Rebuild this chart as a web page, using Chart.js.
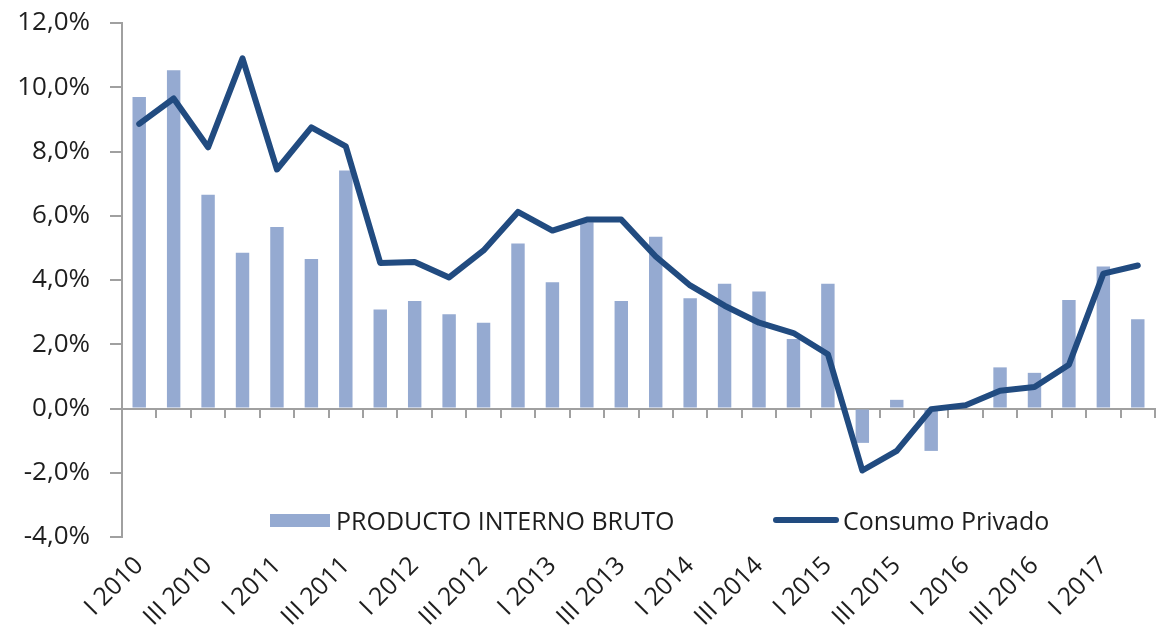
<!DOCTYPE html>
<html>
<head>
<meta charset="utf-8">
<script src="https://cdn.jsdelivr.net/npm/chart.js@4/dist/chart.umd.min.js"></script>
<style>
  html, body { margin: 0; padding: 0; background: #fff; overflow: hidden; }
  #wrap { position: relative; width: 1165px; height: 635px; }
  #legend { position: absolute; left: 0; top: 0; width: 100%; height: 0; font-family: "Open Sans", sans-serif; font-size: 25px; color: #1e1e1e; }
  .lg-item { position: absolute; display: flex; align-items: center; white-space: nowrap; }
  .lg-swatch { display: inline-block; margin-right: 6px; }
</style>
</head>
<body>
<div id="wrap">
  <canvas id="c" width="1165" height="635"></canvas>
  <div id="legend"></div>
</div>
<script>
const quarters = [
  'I 2010','II 2010','III 2010','IV 2010',
  'I 2011','II 2011','III 2011','IV 2011',
  'I 2012','II 2012','III 2012','IV 2012',
  'I 2013','II 2013','III 2013','IV 2013',
  'I 2014','II 2014','III 2014','IV 2014',
  'I 2015','II 2015','III 2015','IV 2015',
  'I 2016','II 2016','III 2016','IV 2016',
  'I 2017','II 2017'
];
const pibLabel = 'PRODUCTO INTERNO BRUTO';
const consumoLabel = 'Consumo Privado';
const pib = [9.7, 10.53, 6.65, 4.85, 5.65, 4.65, 7.41, 3.08,
             3.35, 2.93, 2.67, 5.14, 3.93, 5.8, 3.35, 5.35,
             3.43, 3.88, 3.64, 2.16, 3.88, -1.07, 0.27, -1.32,
             0, 1.28, 1.11, 3.38, 4.42, 2.78];
const consumo = [8.86, 9.65, 8.13, 10.9, 7.44, 8.75, 8.16, 4.53,
                 4.56, 4.08, 4.92, 6.12, 5.54, 5.88, 5.88, 4.73,
                 3.83, 3.2, 2.67, 2.35, 1.69, -1.93, -1.32, -0.02,
                 0.1, 0.55, 0.67, 1.36, 4.2, 4.45];
const yTicks = [-4, -2, 0, 2, 4, 6, 8, 10, 12];

const barColor = 'rgb(149,170,209)';
const lineColor = 'rgb(33,75,128)';
const axisColor = '#a0a0a0';
const textColor = '#1e1e1e';
const yFont = { family: '"Open Sans", sans-serif', size: 26 };
const xFont = { family: '"Open Sans", sans-serif', size: 25 };

const chart = new Chart(document.getElementById('c'), {
  type: 'bar',
  data: {
    labels: quarters,
    datasets: [
      { type: 'line', label: consumoLabel, data: consumo, borderColor: lineColor, backgroundColor: lineColor,
        borderWidth: 6, pointRadius: 0, tension: 0, borderJoinStyle: 'round', borderCapStyle: 'round', order: 1 },
      { type: 'bar', label: pibLabel, data: pib, backgroundColor: barColor, borderWidth: 0,
        barPercentage: 0.39, categoryPercentage: 1, order: 2 }
    ]
  },
  options: {
    responsive: false,
    animation: false,
    layout: { padding: { top: 23, right: 0, left: 0, bottom: 0 } },
    plugins: { legend: { display: false }, tooltip: { enabled: false } },
    scales: {
      x: {
        type: 'category',
        position: 'bottom',
        offset: true,
        grid: { display: false },
        border: { display: false },
        ticks: {
          autoSkip: false, minRotation: 45, maxRotation: 45, padding: 6,
          color: textColor, font: xFont,
          callback: (v, i) => (i % 2 === 0 ? quarters[i] : '')
        },
        afterFit: s => { s.height = 98; }
      },
      x2: {
        type: 'category',
        labels: quarters,
        position: { y: 0 },
        offset: true,
        grid: { display: true, offset: true, drawOnChartArea: false, drawTicks: true, tickLength: 8, color: axisColor, lineWidth: 2 },
        border: { display: true, color: axisColor, width: 2 },
        ticks: { display: false, autoSkip: false }
      },
      y: {
        min: -4, max: 12,
        afterBuildTicks: s => { s.ticks = yTicks.map(v => ({ value: v })); },
        grid: { display: true, drawOnChartArea: false, drawTicks: true, tickLength: 12, color: axisColor, lineWidth: 2 },
        border: { display: true, color: axisColor, width: 2 },
        ticks: {
          padding: 20, color: textColor, font: yFont,
          callback: v => v.toFixed(1).replace('.', ',') + '%'
        },
        afterFit: s => { s.width = 122; s.paddingTop = 10; s.paddingBottom = 10; }
      }
    }
  }
});

// HTML legend placed over the lower part of the plot, like the original
const legend = document.getElementById('legend');
const items = [
  { ds: chart.data.datasets[1], left: 270, kind: 'bar' },
  { ds: chart.data.datasets[0], left: 773, kind: 'line' }
];
items.forEach(it => {
  const d = document.createElement('div');
  d.className = 'lg-item';
  d.style.left = it.left + 'px';
  d.style.top = '504px';
  d.style.height = '32px';
  const sw = document.createElement('span');
  sw.className = 'lg-swatch';
  if (it.kind === 'bar') {
    sw.style.width = '60px'; sw.style.height = '13px'; sw.style.background = it.ds.backgroundColor;
  } else {
    sw.style.width = '66px'; sw.style.height = '6px'; sw.style.borderRadius = '3px'; sw.style.background = it.ds.borderColor;
    sw.style.marginRight = '4px';
  }
  const t = document.createElement('span');
  t.textContent = it.ds.label;
  d.appendChild(sw); d.appendChild(t);
  legend.appendChild(d);
});
</script>
</body>
</html>
